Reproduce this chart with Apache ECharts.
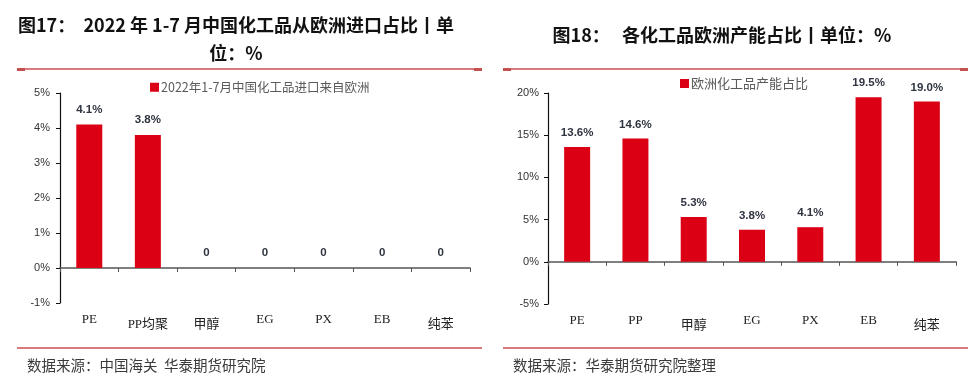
<!DOCTYPE html>
<html><head><meta charset="utf-8">
<script src="https://cdn.jsdelivr.net/npm/echarts@6/dist/echarts.min.js"></script>
<style>html,body{margin:0;padding:0;background:#fff}#c{width:979px;height:384px}</style>
</head><body><div id="c"></div>
<script>
// ---- data ----
const importCategories = ['PE', 'PP均聚', '甲醇', 'EG', 'PX', 'EB', '纯苯'];
const importValues = [4.1, 3.8, 0, 0, 0, 0, 0];
const capacityCategories = ['PE', 'PP', '甲醇', 'EG', 'PX', 'EB', '纯苯'];
const capacityValues = [13.6, 14.6, 5.3, 3.8, 4.1, 19.5, 19.0];
const importAxis = [-1, 5, 1];     // min, max, interval (percent)
const capacityAxis = [-5, 20, 5];
const importLegend = '2022年1-7月中国化工品进口来自欧洲';
const capacityLegend = '欧洲化工品产能占比';
const leftTitle = '图17：  2022 年 1-7 月中国化工品从欧洲进口占比丨单\n位：%';
const rightTitle = '图18：   各化工品欧洲产能占比丨单位：%';
const leftSource = '数据来源：中国海关  华泰期货研究院';
const rightSource = '数据来源：华泰期货研究院整理';

// ---- styles ----
const RED = '#dc0015';
const SEP = '#d97a7c';
const SEP_END = '#c4514f';
const CJK = '"Noto Sans CJK SC", sans-serif';
const SERIF = '"Liberation Serif", "Noto Sans CJK SC", serif';
const SANS = '"Liberation Sans", Arial, sans-serif';

function catLabel(v) {
  return /[\u4e00-\u9fff]/.test(v) ? '{c|' + v + '}' : '{l|' + v + '}';
}
const catRich = {
  l: { fontFamily: SERIF, fontSize: 13, color: '#222', padding: [0, 0, 0, 0] },
  c: { fontFamily: SERIF, fontSize: 13, color: '#222', padding: [5, 0, 0, 0] }
};

function makeX(gridIndex, cats, isBase) {
  if (isBase) {
    return {
      type: 'category', gridIndex, data: cats, position: 'bottom',
      axisLine: { onZero: true, lineStyle: { color: '#555', width: 1.6 } },
      axisTick: { show: true, inside: false, length: 4, lineStyle: { color: '#555' } },
      axisLabel: { show: false }
    };
  }
  return {
    type: 'category', gridIndex, data: cats, position: 'bottom',
    axisLine: { show: false, onZero: false },
    axisTick: { show: false },
    axisLabel: { show: true, interval: 0, margin: 10, formatter: catLabel, rich: catRich }
  };
}
function makeY(gridIndex, ax, margin) {
  return {
    type: 'value', gridIndex, min: ax[0], max: ax[1], interval: ax[2],
    splitLine: { show: false },
    axisLine: { show: true, lineStyle: { color: '#111', width: 1.2 } },
    axisTick: { show: true, length: 4, lineStyle: { color: '#111' } },
    axisLabel: { margin, fontFamily: SANS, fontSize: 11, color: '#333', formatter: '{value}%' }
  };
}

const chart = echarts.init(document.getElementById('c'));
chart.setOption({
  backgroundColor: '#fff',
  animation: false,
  title: [
    { text: leftTitle, left: 231, top: 6, textAlign: 'center',
      textStyle: { fontFamily: CJK, fontSize: 18, fontWeight: 'bold', color: '#111', lineHeight: 28 } },
    { text: rightTitle, left: 717, top: 21, textAlign: 'center',
      textStyle: { fontFamily: CJK, fontSize: 18, fontWeight: 'bold', color: '#111' } }
  ],
  legend: [
    { data: [importLegend], left: 145, top: 76, itemWidth: 9, itemHeight: 9, itemGap: 0,
      icon: 'rect', textStyle: { fontFamily: CJK, fontSize: 12.5, color: '#5a5a5a', padding: [0, 0, 0, -3] } },
    { data: [capacityLegend], left: 675, top: 72, itemWidth: 9, itemHeight: 9, itemGap: 0,
      icon: 'rect', textStyle: { fontFamily: CJK, fontSize: 13, color: '#5a5a5a', padding: [0, 0, 0, -3] } }
  ],
  grid: [
    { left: 60, right: 509, top: 93, bottom: 81 },
    { left: 548, right: 23, top: 93, bottom: 80 }
  ],
  xAxis: [
    makeX(0, importCategories, true),
    makeX(0, importCategories, false),
    makeX(1, capacityCategories, true),
    makeX(1, capacityCategories, false)
  ],
  yAxis: [makeY(0, importAxis, 10), makeY(1, capacityAxis, 9)],
  series: [
    { name: importLegend, type: 'bar', xAxisIndex: 0, yAxisIndex: 0, data: importValues,
      barWidth: 26, itemStyle: { color: RED },
      label: { show: true, position: 'top', distance: 9, fontFamily: SANS, fontSize: 11.5, fontWeight: 'bold', color: '#2f3440',
        formatter: p => p.value === 0 ? '0' : p.value.toFixed(1) + '%' } },
    { name: capacityLegend, type: 'bar', xAxisIndex: 2, yAxisIndex: 1, data: capacityValues,
      barWidth: 26, itemStyle: { color: RED },
      label: { show: true, position: 'top', distance: 8, fontFamily: SANS, fontSize: 11.5, fontWeight: 'bold', color: '#2f3440',
        formatter: p => p.value.toFixed(1) + '%' } }
  ],
  graphic: [
    { type: 'line', shape: { x1: 17, y1: 69, x2: 482, y2: 69 }, style: { stroke: SEP, lineWidth: 2 } },
    { type: 'rect', shape: { x: 17, y: 68, width: 8, height: 3 }, style: { fill: SEP_END } },
    { type: 'rect', shape: { x: 474, y: 68, width: 8, height: 3 }, style: { fill: SEP_END } },
    { type: 'line', shape: { x1: 503, y1: 69, x2: 968, y2: 69 }, style: { stroke: SEP, lineWidth: 2 } },
    { type: 'rect', shape: { x: 503, y: 68, width: 8, height: 3 }, style: { fill: SEP_END } },
    { type: 'rect', shape: { x: 960, y: 68, width: 8, height: 3 }, style: { fill: SEP_END } },
    { type: 'line', shape: { x1: 17, y1: 348, x2: 482, y2: 348 }, style: { stroke: SEP, lineWidth: 2 } },
    { type: 'line', shape: { x1: 503, y1: 348, x2: 968, y2: 348 }, style: { stroke: SEP, lineWidth: 2 } },
    { type: 'text', left: 27, top: 358, style: { text: leftSource, fontFamily: CJK, fontSize: 14.5, fill: '#3a3a3a' } },
    { type: 'text', left: 513, top: 358, style: { text: rightSource, fontFamily: CJK, fontSize: 14.5, fill: '#3a3a3a' } }
  ]
});
</script>
</body></html>
